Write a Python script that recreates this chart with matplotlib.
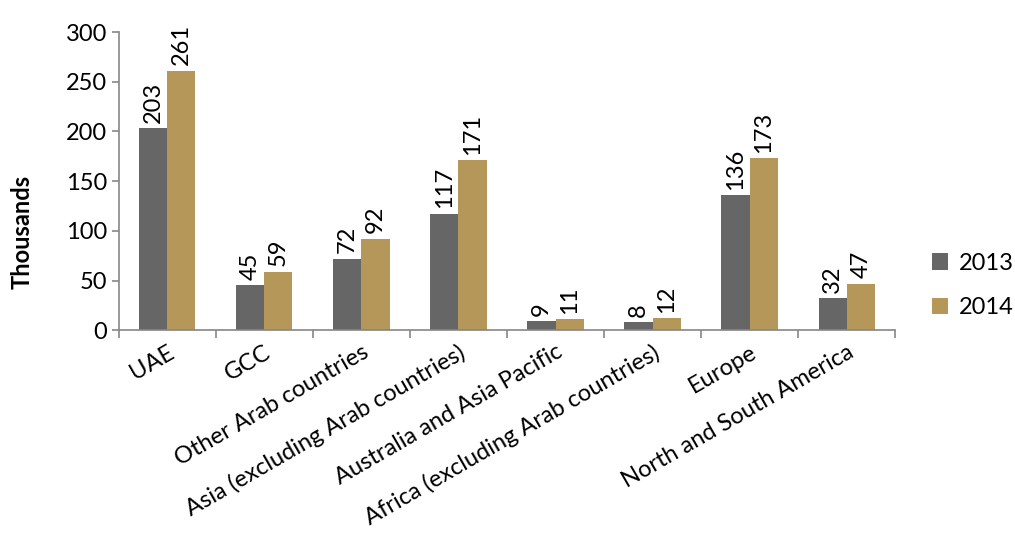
import numpy as np
import matplotlib.pyplot as plt

plt.rcParams['font.family'] = ['Lato', 'DejaVu Sans']

regions = ["UAE", "GCC", "Other Arab countries", "Asia (excluding Arab countries)",
           "Australia and Asia Pacific", "Africa (excluding Arab countries)",
           "Europe", "North and South America"]
v2013 = [203, 45, 72, 117, 9, 8, 136, 32]
v2014 = [261, 59, 92, 171, 11, 12, 173, 47]

fig = plt.figure(figsize=(10.15, 5.44), dpi=100)
ax = fig.add_axes([0.117, 0.393, 0.765, 0.548])

x = np.arange(len(regions))
w = 0.29
b1 = ax.bar(x - w / 2, v2013, w, color='#666666', label='2013')
b2 = ax.bar(x + w / 2, v2014, w, color='#B5975A', label='2014')

for bars, vals in [(b1, v2013), (b2, v2014)]:
    for r, v in zip(bars, vals):
        ax.annotate(str(v), (r.get_x() + r.get_width() / 2, v), xytext=(0, 4),
                    textcoords='offset points', rotation=90, ha='center', va='bottom',
                    fontsize=17)

ax.set_xlim(-0.5, len(regions) - 0.5)
ax.set_ylim(0, 300)
ax.set_yticks(range(0, 301, 50))
ax.tick_params(axis='y', labelsize=17, color='#868686', length=5, width=1.2)
ax.set_xticks(x)
ax.set_xticklabels(regions, rotation=30, ha='right', rotation_mode='anchor', fontsize=17)
ax.tick_params(axis='x', length=0, pad=8)
ax.set_xticks(np.arange(-0.5, len(regions)), minor=True)
ax.tick_params(axis='x', which='minor', length=6, color='#868686', width=1.2)

for s in ['top', 'right']:
    ax.spines[s].set_visible(False)
for s in ['left', 'bottom']:
    ax.spines[s].set_color('#868686')
    ax.spines[s].set_linewidth(1.2)

ax.set_ylabel('Thousands', fontsize=17, fontweight='bold')
ax.yaxis.set_label_coords(-0.11, 0.33)

fig.legend(handles=[b1, b2], loc='center left', bbox_to_anchor=(0.918, 0.475),
           frameon=False, fontsize=17, handlelength=0.7, handleheight=0.7,
           labelspacing=1.0, handletextpad=0.45, borderpad=0, borderaxespad=0)

fig.savefig('out.png', dpi=100)
